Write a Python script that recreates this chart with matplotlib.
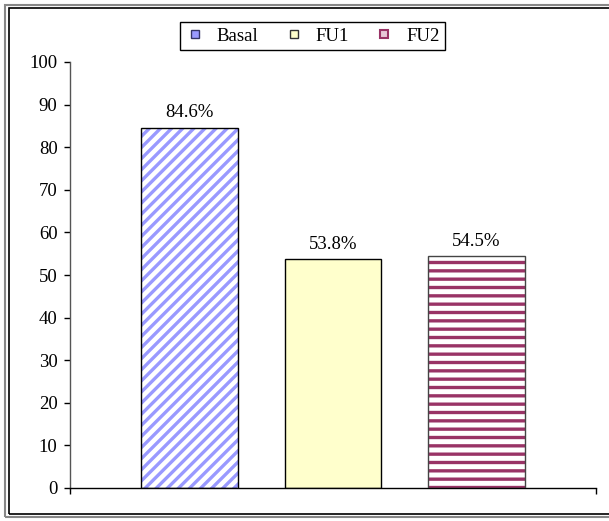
import matplotlib
matplotlib.use("Agg")
import matplotlib.pyplot as plt
from matplotlib.lines import Line2D
from matplotlib.patches import Rectangle

series = ["Basal", "FU1", "FU2"]
values = [84.6, 53.8, 54.5]
labels = ["84.6%", "53.8%", "54.5%"]
yticks = [0, 10, 20, 30, 40, 50, 60, 70, 80, 90, 100]

plt.rcParams['font.family'] = ['Liberation Serif', 'DejaVu Serif']
plt.rcParams['hatch.linewidth'] = 2.4

W, H = 609, 521
fig = plt.figure(figsize=(W / 100, H / 100), dpi=100)
ax = fig.add_axes([70 / W, (H - 488) / H, (596 - 70) / W, (488 - 62) / H])

positions = [-1, 0, 1]
width = 0.67
hatch_colors = ["#9999FF", None, "#993366"]
hatches = ["///", None, "--"]
faces = ["white", "#FFFFCC", "white"]
edges = ["black", "black", "#444444"]

for x, v, hc, h, fc, ec in zip(positions, values, hatch_colors, hatches, faces, edges):
    if h is not None:
        ax.bar(x, v, width, color=fc, edgecolor=hc, hatch=h, linewidth=0, zorder=2)
        ax.bar(x, v, width, fill=False, edgecolor=ec, linewidth=1.0, zorder=3)
    else:
        ax.bar(x, v, width, color=fc, edgecolor=ec, linewidth=1.0, zorder=2)

for x, v, lab in zip(positions, values, labels):
    ax.annotate(lab, (x, v), xytext=(0, 4.5), textcoords="offset points",
                ha="center", va="bottom", fontsize=13.5)

ax.set_xlim(-1.833, 1.833)
ax.set_ylim(0, 100)
ax.set_yticks(yticks)
ax.set_xticks([-1.833, 1.833])
ax.set_xticklabels([])
ax.tick_params(axis='y', direction='out', length=4, width=1, labelsize=13.5, pad=5)
ax.tick_params(axis='x', direction='out', length=4, width=1)
for s in ["top", "right"]:
    ax.spines[s].set_visible(False)
ax.spines["left"].set_color("#555555")
ax.spines["bottom"].set_color("black")
ax.spines["left"].set_linewidth(1)
ax.spines["bottom"].set_linewidth(1)

# legend
handles = [
    Line2D([], [], linestyle="none", marker="s", markersize=5.8, markerfacecolor="#9999FF", markeredgecolor="#333366", markeredgewidth=1),
    Line2D([], [], linestyle="none", marker="s", markersize=5.8, markerfacecolor="#FFFFCC", markeredgecolor="#333333", markeredgewidth=1),
    Line2D([], [], linestyle="none", marker="s", markersize=5.8, markerfacecolor="#E8C8D8", markeredgecolor="#993366", markeredgewidth=1.5),
]
leg = fig.legend(handles, series, loc="center", bbox_to_anchor=(312.5 / W, 1 - 36 / H),
                 ncol=3, frameon=True, fancybox=False, fontsize=13.5, edgecolor="black",
                 handlelength=1.0, handletextpad=0.67, columnspacing=1.37,
                 borderpad=0.3, borderaxespad=0, framealpha=1)
leg.get_frame().set_linewidth(1)

# double border around figure
fig.add_artist(Rectangle((5 / W, 4 / H), 1.2, 1 - 9 / H, transform=fig.transFigure,
                         fill=False, edgecolor="#888888", linewidth=1.5))
fig.add_artist(Rectangle((8.5 / W, 7 / H), 1.2, 1 - 15 / H, transform=fig.transFigure,
                         fill=False, edgecolor="black", linewidth=1.2))

fig.savefig("out.png", dpi=100)
